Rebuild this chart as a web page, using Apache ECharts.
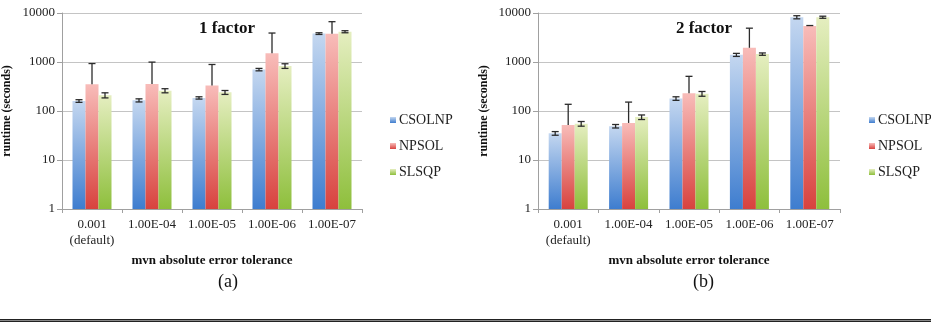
<!DOCTYPE html>
<html>
<head>
<meta charset="utf-8">
<script src="https://cdn.jsdelivr.net/npm/echarts@6/dist/echarts.min.js"></script>
<style>
  html, body { margin: 0; padding: 0; background: #fff; }
  #chart { width: 931px; height: 328px; }
</style>
</head>
<body>
<div id="chart"></div>
<script>
// categories and values
const categories = ['0.001\n(default)', '1.00E-04', '1.00E-05', '1.00E-06', '1.00E-07'];
const seriesNames = ['CSOLNP', 'NPSOL', 'SLSQP'];
const panelTitles = ['1 factor', '2 factor'];
const panelTags = ['(a)', '(b)'];

// (a) 1 factor
const csolnp1 = [160, 165, 185, 700, 3800];
const csolnp1Err = [10, 12, 10, 40, 150];
const npsol1 = [350, 355, 330, 1500, 3750];
const npsol1Err = [580, 640, 560, 2400, 2900];
const slsqp1 = [210, 260, 240, 830, 4150];
const slsqp1Err = [25, 25, 22, 90, 200];

// (b) 2 factor
const csolnp2 = [35, 49, 180, 1400, 8200];
const csolnp2Err = [3, 4, 15, 100, 600];
const npsol2 = [52, 57, 230, 1950, 5400];
const npsol2Err = [85, 95, 280, 2950, 150];
const slsqp2 = [55, 75, 225, 1450, 8200];
const slsqp2Err = [6, 8, 25, 80, 400];

const panels = [
  { values: [csolnp1, npsol1, slsqp1], errs: [csolnp1Err, npsol1Err, slsqp1Err] },
  { values: [csolnp2, npsol2, slsqp2], errs: [csolnp2Err, npsol2Err, slsqp2Err] },
];

const FONT = "'Liberation Serif', 'Times New Roman', serif";
const BAR_W = 13;
const colors = [
  ['#c4d7f0', '#3e7dcf'], // CSOLNP
  ['#f8bcb9', '#d8423e'], // NPSOL
  ['#e5eec0', '#8ebf3c'], // SLSQP
];
// NPSOL bars only show the plus side of the error bar
const plusOnly = [false, true, false];

function grad(c) {
  return new echarts.graphic.LinearGradient(0, 0, 0, 1, [
    { offset: 0, color: c[0] },
    { offset: 1, color: c[1] },
  ]);
}

function errorBar(k) {
  return function (params, api) {
    const i = api.value(0);
    const v = api.value(1);
    const e = api.value(2);
    const top = api.coord([i, v + e]);
    const bot = api.coord([i, plusOnly[k] ? v : v - e]);
    const x = top[0] + (k - 1) * BAR_W;
    const cap = 3.5;
    const style = { stroke: '#2b2b2b', lineWidth: 1.3 };
    const children = [
      { type: 'line', shape: { x1: x, y1: top[1], x2: x, y2: bot[1] }, style },
      { type: 'line', shape: { x1: x - cap, y1: top[1], x2: x + cap, y2: top[1] }, style },
    ];
    if (!plusOnly[k]) {
      children.push({ type: 'line', shape: { x1: x - cap, y1: bot[1], x2: x + cap, y2: bot[1] }, style });
    }
    return { type: 'group', children };
  };
}

const gridPos = [
  { left: 61, top: 13, width: 301, height: 196 },
  { left: 538, top: 13, width: 302, height: 196 },
];

const xAxes = [];
const yAxes = [];
const series = [];
panels.forEach((p, g) => {
  xAxes.push({
    type: 'category',
    gridIndex: g,
    data: categories,
    name: 'mvn absolute error tolerance',
    nameLocation: 'middle',
    nameGap: 42,
    nameTextStyle: { fontFamily: FONT, fontWeight: 'bold', fontSize: 13, color: '#111' },
    axisLine: { lineStyle: { color: '#a0a0a0', width: 1 } },
    axisTick: { show: true, length: 4, lineStyle: { color: '#a0a0a0' } },
    axisLabel: { fontFamily: FONT, fontSize: 13, color: '#222', margin: 8, lineHeight: 16, interval: 0 },
  });
  yAxes.push({
    type: 'log',
    logBase: 10,
    gridIndex: g,
    min: 1,
    max: 10000,
    name: 'runtime (seconds)',
    nameLocation: 'middle',
    nameGap: g === 0 ? 49 : 48,
    nameTextStyle: { fontFamily: FONT, fontWeight: 'bold', fontSize: 12, color: '#111' },
    axisLine: { show: true, lineStyle: { color: '#a0a0a0', width: 1 } },
    axisTick: { show: true, length: 5, lineStyle: { color: '#a0a0a0' } },
    axisLabel: {
      fontFamily: FONT, fontSize: 13, color: '#222', margin: 7,
      formatter: (v) => String(Math.round(v)),
    },
    splitLine: { show: true, lineStyle: { color: '#c4c4c4', width: 1 } },
  });
  seriesNames.forEach((name, k) => {
    series.push({
      name,
      type: 'bar',
      xAxisIndex: g,
      yAxisIndex: g,
      barWidth: BAR_W,
      barGap: '0%',
      itemStyle: { color: grad(colors[k]) },
      data: p.values[k],
      z: 2,
    });
  });
  seriesNames.forEach((name, k) => {
    series.push({
      name: 'err-' + name + '-' + g,
      type: 'custom',
      xAxisIndex: g,
      yAxisIndex: g,
      renderItem: errorBar(k),
      encode: { x: 0, y: 1 },
      data: p.values[k].map((v, i) => [i, v, p.errs[k][i]]),
      z: 5,
      silent: true,
    });
  });
});

const legendCommon = {
  orient: 'vertical',
  top: 108,
  itemWidth: 6,
  itemHeight: 6,
  itemGap: 12,
  icon: 'rect',
  data: seriesNames,
  textStyle: { fontFamily: FONT, fontSize: 14, color: '#222', padding: [0, 0, 0, -2] },
};

const option = {
  animation: false,
  backgroundColor: '#fff',
  title: panelTitles.map((t, g) => ({
    text: t,
    left: g === 0 ? 222 : 699,
    top: 15,
    textAlign: 'center',
    textStyle: { fontFamily: FONT, fontWeight: 'bold', fontSize: 17, color: '#111' },
  })),
  legend: [
    Object.assign({ left: 385 }, legendCommon),
    Object.assign({ left: 864 }, legendCommon),
  ],
  grid: gridPos,
  xAxis: xAxes,
  yAxis: yAxes,
  series,
  graphic: [
    { type: 'text', left: 218, top: 273, style: { text: panelTags[0], font: '18px ' + FONT, fill: '#111' } },
    { type: 'text', left: 693, top: 273, style: { text: panelTags[1], font: '18px ' + FONT, fill: '#111' } },
    { type: 'rect', left: 0, top: 319, shape: { width: 931, height: 3 }, style: { fill: '#888' } },
    { type: 'rect', left: 0, top: 319, shape: { width: 931, height: 1 }, style: { fill: '#222' } },
    { type: 'rect', left: 0, top: 321, shape: { width: 931, height: 1 }, style: { fill: '#222' } },
  ],
};

const chart = echarts.init(document.getElementById('chart'));
chart.setOption(option);
</script>
</body>
</html>
